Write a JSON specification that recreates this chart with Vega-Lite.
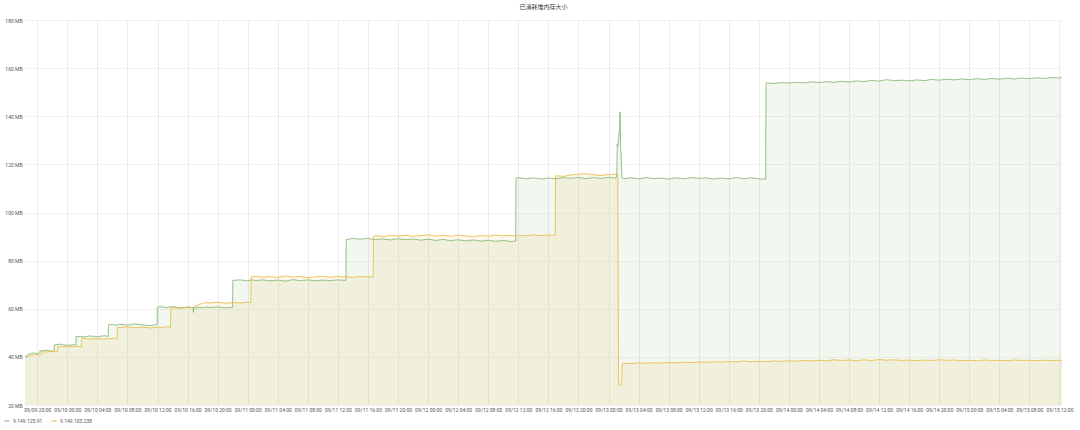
{
  "$schema": "https://vega.github.io/schema/vega-lite/v6.json",
  "width": 1037,
  "height": 385,
  "autosize": "none",
  "padding": {"left": 25, "top": 20, "right": 18, "bottom": 25},
  "background": "#ffffff",
  "config": {"view": {"stroke": null}, "font": "Roboto"},
  "title": {"text": "已消耗堆内存大小", "font": "Noto Sans CJK SC", "fontSize": 6, "fontWeight": "normal", "color": "#333333", "anchor": "middle", "offset": 8},
  "data": {"values": [
    {"t":"2020-09-09T18:22","a":40.1,"b":39.5},
    {"t":"2020-09-09T19:00","a":41.3,"b":40.6},
    {"t":"2020-09-09T19:30","a":41.6,"b":40.8},
    {"t":"2020-09-09T20:00","a":41.4,"b":40.9},
    {"t":"2020-09-09T20:20","a":41.7,"b":40.7},
    {"t":"2020-09-09T20:22","a":42.6,"b":40.8},
    {"t":"2020-09-09T20:34","a":42.4,"b":40.9},
    {"t":"2020-09-09T20:36","a":42.5,"b":42.2},
    {"t":"2020-09-09T21:00","a":42.8,"b":42.0},
    {"t":"2020-09-09T22:00","a":42.4,"b":42.3},
    {"t":"2020-09-09T22:15","a":42.7,"b":42.1},
    {"t":"2020-09-09T22:17","a":45.0,"b":42.2},
    {"t":"2020-09-09T22:42","a":45.2,"b":42.3},
    {"t":"2020-09-09T22:44","a":44.9,"b":44.3},
    {"t":"2020-09-09T23:00","a":45.3,"b":44.1},
    {"t":"2020-09-10T00:00","a":44.8,"b":44.4},
    {"t":"2020-09-10T01:00","a":45.1,"b":44.2},
    {"t":"2020-09-10T01:08","a":44.9,"b":44.3},
    {"t":"2020-09-10T01:10","a":48.5,"b":44.4},
    {"t":"2020-09-10T01:54","a":48.3,"b":44.2},
    {"t":"2020-09-10T01:56","a":48.6,"b":47.5},
    {"t":"2020-09-10T02:00","a":48.2,"b":47.7},
    {"t":"2020-09-10T03:00","a":48.7,"b":47.4},
    {"t":"2020-09-10T04:00","a":48.4,"b":47.6},
    {"t":"2020-09-10T05:00","a":48.8,"b":47.3},
    {"t":"2020-09-10T05:26","a":48.5,"b":47.6},
    {"t":"2020-09-10T05:28","a":53.3,"b":47.5},
    {"t":"2020-09-10T06:00","a":53.5,"b":47.7},
    {"t":"2020-09-10T06:38","a":53.1,"b":47.4},
    {"t":"2020-09-10T06:40","a":53.4,"b":52.4},
    {"t":"2020-09-10T07:00","a":53.6,"b":52.2},
    {"t":"2020-09-10T08:00","a":53.2,"b":52.5},
    {"t":"2020-09-10T09:00","a":53.7,"b":52.1},
    {"t":"2020-09-10T10:00","a":53.3,"b":52.4},
    {"t":"2020-09-10T11:00","a":53.0,"b":52.0},
    {"t":"2020-09-10T11:57","a":53.4,"b":52.3},
    {"t":"2020-09-10T11:59","a":60.7,"b":52.4},
    {"t":"2020-09-10T12:30","a":60.9,"b":52.2},
    {"t":"2020-09-10T13:00","a":60.5,"b":52.5},
    {"t":"2020-09-10T13:44","a":60.8,"b":52.3},
    {"t":"2020-09-10T13:46","a":60.6,"b":60.3},
    {"t":"2020-09-10T14:00","a":60.9,"b":60.5},
    {"t":"2020-09-10T15:00","a":60.4,"b":60.2},
    {"t":"2020-09-10T16:00","a":60.7,"b":60.6},
    {"t":"2020-09-10T16:44","a":60.5,"b":60.5},
    {"t":"2020-09-10T16:46","a":58.5,"b":60.4},
    {"t":"2020-09-10T16:50","a":60.6,"b":60.7},
    {"t":"2020-09-10T17:00","a":60.3,"b":61.0},
    {"t":"2020-09-10T17:30","a":60.6,"b":61.8},
    {"t":"2020-09-10T18:00","a":60.4,"b":62.2},
    {"t":"2020-09-10T18:30","a":60.7,"b":62.6},
    {"t":"2020-09-10T19:00","a":60.5,"b":62.4},
    {"t":"2020-09-10T20:00","a":60.8,"b":62.7},
    {"t":"2020-09-10T21:00","a":60.4,"b":62.3},
    {"t":"2020-09-10T21:59","a":60.6,"b":62.5},
    {"t":"2020-09-10T22:01","a":71.8,"b":62.6},
    {"t":"2020-09-10T23:00","a":72.0,"b":62.4},
    {"t":"2020-09-11T00:00","a":71.6,"b":62.7},
    {"t":"2020-09-11T00:25","a":71.9,"b":62.5},
    {"t":"2020-09-11T00:27","a":72.1,"b":73.2},
    {"t":"2020-09-11T01:00","a":71.7,"b":73.5},
    {"t":"2020-09-11T02:00","a":72.0,"b":73.1},
    {"t":"2020-09-11T03:00","a":71.6,"b":73.4},
    {"t":"2020-09-11T04:00","a":71.9,"b":73.0},
    {"t":"2020-09-11T05:00","a":71.5,"b":73.6},
    {"t":"2020-09-11T06:00","a":72.1,"b":73.2},
    {"t":"2020-09-11T07:00","a":71.7,"b":73.4},
    {"t":"2020-09-11T08:00","a":72.0,"b":72.9},
    {"t":"2020-09-11T09:00","a":71.6,"b":73.3},
    {"t":"2020-09-11T10:00","a":71.9,"b":73.5},
    {"t":"2020-09-11T11:00","a":71.7,"b":73.1},
    {"t":"2020-09-11T12:00","a":72.0,"b":73.4},
    {"t":"2020-09-11T13:04","a":71.8,"b":73.2},
    {"t":"2020-09-11T13:06","a":88.8,"b":73.3},
    {"t":"2020-09-11T14:00","a":89.2,"b":73.0},
    {"t":"2020-09-11T15:00","a":88.9,"b":73.4},
    {"t":"2020-09-11T16:00","a":89.3,"b":73.2},
    {"t":"2020-09-11T16:42","a":88.7,"b":73.3},
    {"t":"2020-09-11T16:44","a":89.1,"b":90.1},
    {"t":"2020-09-11T17:00","a":88.8,"b":90.4},
    {"t":"2020-09-11T18:00","a":89.0,"b":90.0},
    {"t":"2020-09-11T19:00","a":88.6,"b":90.5},
    {"t":"2020-09-11T20:00","a":89.1,"b":90.2},
    {"t":"2020-09-11T21:00","a":88.7,"b":90.6},
    {"t":"2020-09-11T22:00","a":89.0,"b":90.1},
    {"t":"2020-09-11T23:00","a":88.5,"b":90.4},
    {"t":"2020-09-12T00:00","a":88.9,"b":90.7},
    {"t":"2020-09-12T01:00","a":88.4,"b":90.2},
    {"t":"2020-09-12T02:00","a":88.8,"b":90.5},
    {"t":"2020-09-12T03:00","a":88.3,"b":90.1},
    {"t":"2020-09-12T04:00","a":88.7,"b":90.6},
    {"t":"2020-09-12T05:00","a":88.2,"b":90.3},
    {"t":"2020-09-12T06:00","a":88.6,"b":90.0},
    {"t":"2020-09-12T07:00","a":88.1,"b":90.4},
    {"t":"2020-09-12T08:00","a":88.5,"b":90.2},
    {"t":"2020-09-12T09:00","a":88.0,"b":90.6},
    {"t":"2020-09-12T10:00","a":88.4,"b":90.3},
    {"t":"2020-09-12T11:00","a":87.9,"b":90.5},
    {"t":"2020-09-12T11:39","a":88.2,"b":90.2},
    {"t":"2020-09-12T11:41","a":114.2,"b":90.4},
    {"t":"2020-09-12T12:00","a":114.5,"b":90.6},
    {"t":"2020-09-12T13:00","a":114.0,"b":90.3},
    {"t":"2020-09-12T14:00","a":114.4,"b":90.7},
    {"t":"2020-09-12T15:00","a":113.9,"b":90.4},
    {"t":"2020-09-12T16:00","a":114.3,"b":90.6},
    {"t":"2020-09-12T16:55","a":114.1,"b":90.5},
    {"t":"2020-09-12T16:57","a":114.4,"b":115.0},
    {"t":"2020-09-12T17:00","a":114.0,"b":115.3},
    {"t":"2020-09-12T18:00","a":114.5,"b":115.0},
    {"t":"2020-09-12T19:00","a":114.2,"b":115.6},
    {"t":"2020-09-12T20:00","a":114.6,"b":115.9},
    {"t":"2020-09-12T21:00","a":114.1,"b":116.1},
    {"t":"2020-09-12T22:00","a":114.5,"b":115.7},
    {"t":"2020-09-12T23:00","a":114.2,"b":115.4},
    {"t":"2020-09-13T00:00","a":114.6,"b":115.8},
    {"t":"2020-09-13T01:00","a":114.3,"b":116.0},
    {"t":"2020-09-13T01:06","a":116.0,"b":115.8},
    {"t":"2020-09-13T01:10","a":128.5,"b":115.9},
    {"t":"2020-09-13T01:14","a":127.5,"b":115.6},
    {"t":"2020-09-13T01:20","a":130.5,"b":28.3},
    {"t":"2020-09-13T01:28","a":135.0,"b":28.2},
    {"t":"2020-09-13T01:32","a":141.8,"b":28.4},
    {"t":"2020-09-13T01:37","a":126.3,"b":28.3},
    {"t":"2020-09-13T01:40","a":125.0,"b":28.5},
    {"t":"2020-09-13T01:46","a":116.0,"b":30.0},
    {"t":"2020-09-13T01:49","a":114.3,"b":37.1},
    {"t":"2020-09-13T02:00","a":114.1,"b":37.3},
    {"t":"2020-09-13T03:00","a":114.4,"b":37.2},
    {"t":"2020-09-13T04:00","a":114.0,"b":37.5},
    {"t":"2020-09-13T05:00","a":114.5,"b":37.3},
    {"t":"2020-09-13T06:00","a":114.1,"b":37.6},
    {"t":"2020-09-13T07:00","a":114.3,"b":37.4},
    {"t":"2020-09-13T08:00","a":113.9,"b":37.7},
    {"t":"2020-09-13T09:00","a":114.4,"b":37.5},
    {"t":"2020-09-13T10:00","a":114.0,"b":37.8},
    {"t":"2020-09-13T11:00","a":114.5,"b":37.6},
    {"t":"2020-09-13T12:00","a":114.2,"b":37.9},
    {"t":"2020-09-13T13:00","a":114.4,"b":37.7},
    {"t":"2020-09-13T14:00","a":113.9,"b":38.0},
    {"t":"2020-09-13T15:00","a":114.3,"b":37.8},
    {"t":"2020-09-13T16:00","a":114.0,"b":38.1},
    {"t":"2020-09-13T17:00","a":114.5,"b":37.9},
    {"t":"2020-09-13T18:00","a":114.1,"b":38.3},
    {"t":"2020-09-13T19:00","a":114.4,"b":38.0},
    {"t":"2020-09-13T20:00","a":114.0,"b":38.2},
    {"t":"2020-09-13T20:55","a":113.9,"b":38.1},
    {"t":"2020-09-13T20:57","a":153.7,"b":38.2},
    {"t":"2020-09-13T21:00","a":153.9,"b":38.0},
    {"t":"2020-09-13T22:00","a":153.6,"b":38.3},
    {"t":"2020-09-13T23:00","a":154.0,"b":38.1},
    {"t":"2020-09-14T00:00","a":153.8,"b":38.4},
    {"t":"2020-09-14T01:00","a":154.1,"b":38.2},
    {"t":"2020-09-14T02:00","a":153.9,"b":38.5},
    {"t":"2020-09-14T03:00","a":154.3,"b":38.3},
    {"t":"2020-09-14T04:00","a":154.0,"b":38.6},
    {"t":"2020-09-14T05:00","a":154.4,"b":38.4},
    {"t":"2020-09-14T06:00","a":154.1,"b":38.8},
    {"t":"2020-09-14T07:00","a":154.5,"b":38.5},
    {"t":"2020-09-14T08:00","a":154.2,"b":38.7},
    {"t":"2020-09-14T09:00","a":154.7,"b":38.4},
    {"t":"2020-09-14T10:00","a":154.4,"b":38.8},
    {"t":"2020-09-14T11:00","a":154.9,"b":38.5},
    {"t":"2020-09-14T12:00","a":154.6,"b":38.9},
    {"t":"2020-09-14T13:00","a":155.2,"b":38.6},
    {"t":"2020-09-14T14:00","a":154.8,"b":38.8},
    {"t":"2020-09-14T15:00","a":155.0,"b":38.5},
    {"t":"2020-09-14T16:00","a":154.7,"b":38.7},
    {"t":"2020-09-14T17:00","a":155.1,"b":38.4},
    {"t":"2020-09-14T18:00","a":154.8,"b":38.7},
    {"t":"2020-09-14T19:00","a":155.3,"b":38.5},
    {"t":"2020-09-14T20:00","a":155.0,"b":38.8},
    {"t":"2020-09-14T21:00","a":155.4,"b":38.6},
    {"t":"2020-09-14T22:00","a":155.1,"b":38.7},
    {"t":"2020-09-14T23:00","a":155.5,"b":38.4},
    {"t":"2020-09-15T00:00","a":155.2,"b":38.6},
    {"t":"2020-09-15T01:00","a":155.6,"b":38.4},
    {"t":"2020-09-15T02:00","a":155.3,"b":38.7},
    {"t":"2020-09-15T03:00","a":155.7,"b":38.5},
    {"t":"2020-09-15T04:00","a":155.4,"b":38.6},
    {"t":"2020-09-15T05:00","a":155.8,"b":38.4},
    {"t":"2020-09-15T06:00","a":155.5,"b":38.7},
    {"t":"2020-09-15T07:00","a":155.9,"b":38.5},
    {"t":"2020-09-15T08:00","a":155.6,"b":38.6},
    {"t":"2020-09-15T09:00","a":156.0,"b":38.4},
    {"t":"2020-09-15T10:00","a":155.7,"b":38.6},
    {"t":"2020-09-15T11:00","a":156.1,"b":38.5},
    {"t":"2020-09-15T12:00","a":155.9,"b":38.6},
    {"t":"2020-09-15T12:20","a":156.3,"b":38.5}
  ]},
  "transform": [{"fold": ["a", "b"], "as": ["k", "v"]}],
  "encoding": {
    "x": {
      "field": "t", "type": "temporal",
      "scale": {"nice": false},
      "axis": {"title": null, "format": "%m/%d %H:%M",
        "values": [
          {"year":2020,"month":9,"date":9,"hours":20},
          {"year":2020,"month":9,"date":10,"hours":0},{"year":2020,"month":9,"date":10,"hours":4},{"year":2020,"month":9,"date":10,"hours":8},{"year":2020,"month":9,"date":10,"hours":12},{"year":2020,"month":9,"date":10,"hours":16},{"year":2020,"month":9,"date":10,"hours":20},
          {"year":2020,"month":9,"date":11,"hours":0},{"year":2020,"month":9,"date":11,"hours":4},{"year":2020,"month":9,"date":11,"hours":8},{"year":2020,"month":9,"date":11,"hours":12},{"year":2020,"month":9,"date":11,"hours":16},{"year":2020,"month":9,"date":11,"hours":20},
          {"year":2020,"month":9,"date":12,"hours":0},{"year":2020,"month":9,"date":12,"hours":4},{"year":2020,"month":9,"date":12,"hours":8},{"year":2020,"month":9,"date":12,"hours":12},{"year":2020,"month":9,"date":12,"hours":16},{"year":2020,"month":9,"date":12,"hours":20},
          {"year":2020,"month":9,"date":13,"hours":0},{"year":2020,"month":9,"date":13,"hours":4},{"year":2020,"month":9,"date":13,"hours":8},{"year":2020,"month":9,"date":13,"hours":12},{"year":2020,"month":9,"date":13,"hours":16},{"year":2020,"month":9,"date":13,"hours":20},
          {"year":2020,"month":9,"date":14,"hours":0},{"year":2020,"month":9,"date":14,"hours":4},{"year":2020,"month":9,"date":14,"hours":8},{"year":2020,"month":9,"date":14,"hours":12},{"year":2020,"month":9,"date":14,"hours":16},{"year":2020,"month":9,"date":14,"hours":20},
          {"year":2020,"month":9,"date":15,"hours":0},{"year":2020,"month":9,"date":15,"hours":4},{"year":2020,"month":9,"date":15,"hours":8},{"year":2020,"month":9,"date":15,"hours":12}
        ],
        "labelOverlap": false, "labelFlush": false, "labelFontSize": 5, "labelColor": "#555555", "labelPadding": 2, "domain": false, "ticks": false, "grid": true, "gridColor": "#ececec"}
    },
    "y": {
      "field": "v", "type": "quantitative", "stack": null,
      "scale": {"domain": [20, 180], "nice": false, "zero": false},
      "axis": {"title": null, "values": [20, 40, 60, 80, 100, 120, 140, 160, 180], "labelExpr": "datum.value + ' MB'", "labelFontSize": 5, "labelColor": "#555555", "labelPadding": 3, "domain": false, "ticks": false, "grid": true, "gridColor": "#f2f2f2"}
    },
    "color": {
      "field": "k", "type": "nominal",
      "scale": {"domain": ["a", "b"], "range": ["#7eb26d", "#eab839"]},
      "legend": {"title": null, "orient": "none", "legendX": -21, "legendY": 398, "direction": "horizontal", "symbolType": "stroke", "symbolSize": 25, "symbolStrokeWidth": 1, "labelFontSize": 5, "labelColor": "#555555", "labelOffset": 3, "columnPadding": 6, "labelExpr": "datum.value == 'a' ? '9.149.125.91' : '9.149.103.238'"}
    }
  },
  "layer": [
    {"mark": {"type": "area", "fillOpacity": 0.1, "interpolate": "linear"}, "encoding": {"y2": {"datum": 20}}},
    {"mark": {"type": "line", "strokeWidth": 0.8, "interpolate": "linear"}}
  ]
}
